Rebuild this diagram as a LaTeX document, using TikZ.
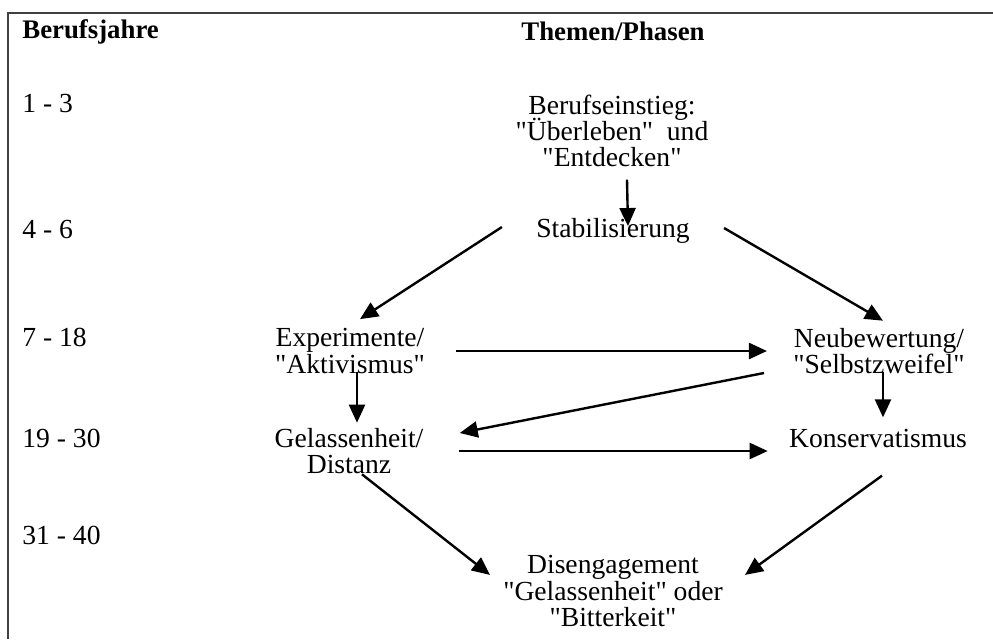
\documentclass[tikz,border=0pt]{standalone}
\usepackage{fontspec}
\setmainfont{Liberation Serif}[Ligatures=TeXOff]
\usepackage{tikz}
\usetikzlibrary{arrows.meta,calc}

\newcommand{\phasenschrift}{\fontsize{13.8pt}{13.2pt}\selectfont\lineskiplimit-20pt\relax}

\tikzset{
  phase/.style={align=center, inner sep=0pt, font=\phasenschrift},
  jahr/.style={anchor=west, inner sep=0pt, font=\fontsize{13.8pt}{13pt}\selectfont},
  kopf/.style={inner sep=0pt, font=\fontsize{13.4pt}{13pt}\selectfont\bfseries},
  pfeil/.style={line width=1.2pt, -{Triangle[length=9pt,width=8pt]}}
}

\begin{document}
\begin{tikzpicture}[x=0.5pt,y=-0.5pt]
	\useasboundingbox (0,0) rectangle (993,639);
	% Rahmen
	\draw[line width=1pt, black!75] (8,639) -- (8,13) -- (993,13);
	
	% Kopfzeile
	\node[kopf, anchor=west] (kjahre) at (22,32) {Berufsjahre};
	\node[kopf] (kphasen) at (613,31) {Themen/Phasen};
	
	% Berufsjahre
	\node[jahr] (j1) at (22,103) {1 - 3};
	\node[jahr] (j2) at (22,229) {4 - 6};
	\node[jahr] (j3) at (22,337) {7 - 18};
	\node[jahr] (j4) at (22,438) {19 - 30};
	\node[jahr] (j5) at (22,535) {31 - 40};
	
	% Phasen
	\node[phase] (beruf) at (612,131) {Berufseinstieg:\\"Überleben"\ \ und\\"Entdecken"};
	\node[phase] (stab) at (613,231) {Stabilisierung};
	\node[phase] (exp) at (350,351) {Experimente/\\"Aktivismus"};
	\node[phase] (neu) at (879,351) {Neubewertung/\\"Selbstzweifel"};
	\node[phase] (gel) at (349,451) {Gelassenheit/\\Distanz};
	\node[phase] (kons) at (878,438) {Konservatismus};
	\node[phase] (dis) at (613,591) {Disengagement\\"Gelassenheit" oder\\"Bitterkeit"};
	
	% Pfeile
	\draw[pfeil] ($(beruf.south)+(15,12)$) -- ($(stab.north)+(15,8)$);
	\draw[pfeil] ($(stab.west)+(-34,-4)$) -- ($(exp.north)+(10,-9)$);
	\draw[pfeil] ($(stab.east)+(34,-3)$) -- ($(neu.north)+(4,-7)$);
	\draw[pfeil] ($(exp.east)+(31,0)$) -- ($(neu.west)+(-26,0)$);
	\draw[pfeil] ($(neu.west)+(-29,22)$) -- ($(gel.east)+(36,-18)$);
	\draw[pfeil] ($(exp.south)+(7,-2)$) -- ($(gel.north)+(8,-5)$);
	\draw[pfeil] ($(neu.south)+(4,-2)$) -- ($(kons.north)+(5,-11)$);
	\draw[pfeil] ($(gel.east)+(35,0)$) -- ($(kons.west)+(-21,13)$);
	\draw[pfeil] ($(gel.south)+(13,0)$) -- ($(dis.north)+(-123,20)$);
	\draw[pfeil] ($(kons.south)+(4,28)$) -- ($(dis.north)+(132,20)$);
\end{tikzpicture}
\end{document}
